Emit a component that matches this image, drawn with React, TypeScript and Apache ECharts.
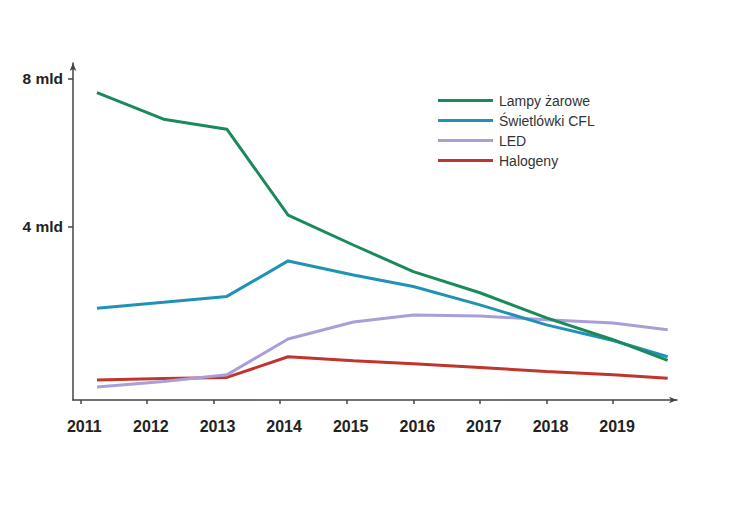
import React, { useEffect, useRef } from "react";
import * as echarts from "echarts";

const seriesNames = ["Lampy żarowe", "Świetlówki CFL", "LED", "Halogeny"];
const seriesColors = ["#1b8a5a", "#1f92b6", "#a99fd8", "#c0352c"];
const pointYears = [2011.25, 2012.25, 2013.2, 2014.12, 2015.1, 2016, 2017, 2018, 2019, 2019.82];
const lampyZarowe = [7.63, 6.91, 6.64, 4.32, 3.51, 2.79, 2.22, 1.54, 0.95, 0.39];
const swietlowkiCFL = [1.8, 1.96, 2.12, 3.08, 2.7, 2.39, 1.89, 1.35, 0.93, 0.49];
const led = [-0.33, -0.18, 0.0, 0.97, 1.43, 1.62, 1.59, 1.49, 1.4, 1.22];
const halogeny = [-0.14, -0.1, -0.07, 0.49, 0.38, 0.3, 0.2, 0.09, 0.0, -0.09];
const yearTicks = [2011, 2012, 2013, 2014, 2015, 2016, 2017, 2018, 2019];
const yTicks = [4, 8];

export default function App() {
  const ref = useRef<HTMLDivElement>(null);
  useEffect(() => {
    document.body.style.margin = "0";
    const chart = echarts.init(ref.current!, null, { renderer: "svg" });
    const values = [lampyZarowe, swietlowkiCFL, led, halogeny];
    chart.setOption({
      animation: false,
      backgroundColor: "#ffffff",
      grid: { left: 73, right: 63, top: 63, bottom: 129, containLabel: false },
      legend: {
        orient: "vertical",
        left: 438,
        top: 93,
        padding: 0,
        icon: "rect",
        itemWidth: 55,
        itemHeight: 3,
        itemGap: 5,
        textStyle: { fontFamily: "Liberation Sans, Arial, sans-serif", fontSize: 14, color: "#333", lineHeight: 15, padding: [0, 0, 0, 1] },
        data: seriesNames,
      },
      xAxis: {
        type: "value",
        min: 2010.89,
        max: 2019.96,
        axisLine: { onZero: false, lineStyle: { color: "#444", width: 1.5 }, symbol: ["none", "arrow"], symbolSize: [5, 8] },
        axisTick: { show: true, length: 4, lineStyle: { color: "#444", width: 1.5 }, customValues: yearTicks },
        axisLabel: {
          customValues: yearTicks,
          margin: 18,
          fontFamily: "Liberation Sans, Arial, sans-serif",
          fontSize: 16,
          fontWeight: "bold",
          color: "#222",
          padding: [0, 0, 0, 8],
          formatter: (v: number) => String(Math.round(v)),
        },
        splitLine: { show: false },
      },
      yAxis: {
        type: "value",
        min: -0.68,
        max: 8.43,
        axisLine: { show: true, lineStyle: { color: "#444", width: 1.5 }, symbol: ["none", "arrow"], symbolSize: [5, 8] },
        axisTick: { show: true, length: 5, lineStyle: { color: "#444", width: 1.5 }, customValues: yTicks },
        axisLabel: {
          customValues: yTicks,
          margin: 10,
          fontFamily: "Liberation Sans, Arial, sans-serif",
          fontSize: 15.5,
          fontWeight: "bold",
          color: "#222",
          formatter: (v: number) => `${Math.round(v)} mld`,
        },
        splitLine: { show: false },
      },
      series: seriesNames.map((name, i) => ({
        name,
        type: "line",
        data: pointYears.map((x, j) => [x, values[i][j]]),
        showSymbol: false,
        symbol: "none",
        lineStyle: { color: seriesColors[i], width: 3 },
        itemStyle: { color: seriesColors[i] },
        z: 10 - i,
      })),
    });
    return () => chart.dispose();
  }, []);
  return <div ref={ref} style={{ width: 740, height: 529, position: "absolute", left: 0, top: 0 }} />;
}
